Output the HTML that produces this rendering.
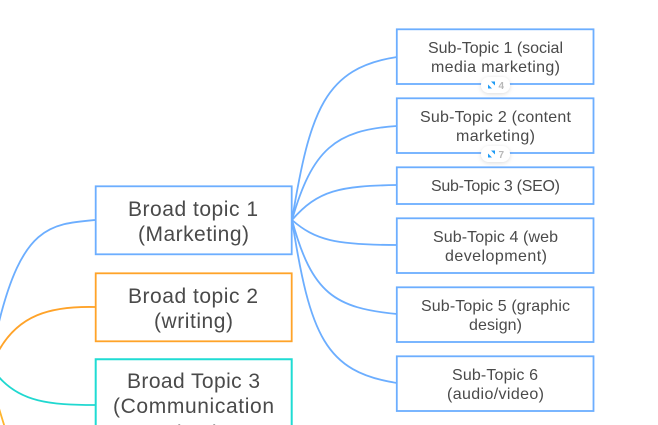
<!DOCTYPE html>
<html lang="en">
<head>
<meta charset="utf-8">
<title>Mind map</title>
<style>
html,body{margin:0;padding:0;background:#fff;width:658px;height:425px;overflow:hidden}
svg{display:block}
text{font-family:"Liberation Sans",sans-serif;fill:#4a4a4a}
.b{font-size:21px}
.s{font-size:16px}
.n{font-size:10px;fill:#b8b8b8;font-weight:bold}
.box{fill:#fff;stroke-width:1.8}
path.c{fill:none;stroke-width:1.8}
</style>
</head>
<body>
<svg width="658" height="425" viewBox="0 0 658 425" xmlns="http://www.w3.org/2000/svg">
<defs>
<filter id="sh" x="-40%" y="-40%" width="180%" height="200%">
<feDropShadow dx="0" dy="1" stdDeviation="2" flood-color="#000" flood-opacity="0.14"/>
</filter>
</defs>

<!-- connectors -->
<g stroke="#6caeff">
<path class="c" d="M292 220C310 110 325 68 397 57"/>
<path class="c" d="M292 220C312 150 335 130 397 126"/>
<path class="c" d="M292 220C318 190 340 186 397 185"/>
<path class="c" d="M292 220C315 240 335 245 397 245"/>
<path class="c" d="M292 220C312 294 335 308 397 314"/>
<path class="c" d="M292 220C310 335 325 372 397 383"/>
<path class="c" d="M95 220C50 224 22 226 -2 326"/>
</g>
<path class="c" stroke="#ffa329" d="M95 307C50 306 18 315 -2 352"/>
<path class="c" stroke="#ffb52e" d="M-2 405C0 412 2 418 5 428"/>
<path class="c" stroke="#20d8d0" d="M95 405C50 405 20 402 -2 376"/>

<!-- broad topics -->
<rect class="box" x="95.700" y="186.300" width="196" height="68" stroke="#6caeff"/>
<rect class="box" x="95.700" y="273.300" width="196" height="68" stroke="#ffa329"/>
<path d="M95.700 425V359.300H291.700V425" fill="#fff" stroke="#1fdcd3" stroke-width="2"/>

<text class="b" x="128" y="216" textLength="130">Broad topic 1</text>
<text class="b" x="138" y="241" textLength="111">(Marketing)</text>
<text class="b" x="128" y="303" textLength="130">Broad topic 2</text>
<text class="b" x="154" y="328" textLength="79">(writing)</text>
<text class="b" x="127" y="388" textLength="133">Broad Topic 3</text>
<text class="b" x="113" y="413" textLength="161">(Communication</text>
<text class="b" x="143" y="440" textLength="100">authoring</text>

<!-- sub topics -->
<g stroke="#6caeff">
<rect class="box" x="396.800" y="29.300" width="196.700" height="54.700"/>
<rect class="box" x="396.800" y="98.300" width="196.700" height="54.700"/>
<rect class="box" x="396.800" y="167.300" width="196.700" height="36.700"/>
<rect class="box" x="396.800" y="218.300" width="196.700" height="54.700"/>
<rect class="box" x="396.800" y="287.300" width="196.700" height="54.700"/>
<rect class="box" x="396.800" y="356.300" width="196.700" height="54.700"/>
</g>

<text class="s" x="428" y="53" textLength="135">Sub-Topic 1 (social</text>
<text class="s" x="431" y="72" textLength="129">media marketing)</text>
<text class="s" x="420" y="122" textLength="151">Sub-Topic 2 (content</text>
<text class="s" x="456" y="141" textLength="79">marketing)</text>
<text class="s" x="431" y="191" textLength="129">Sub-Topic 3 (SEO)</text>
<text class="s" x="433" y="242" textLength="125">Sub-Topic 4 (web</text>
<text class="s" x="445" y="261" textLength="102">development)</text>
<text class="s" x="421" y="311" textLength="149">Sub-Topic 5 (graphic</text>
<text class="s" x="469" y="330" textLength="53">design)</text>
<text class="s" x="452" y="380" textLength="86">Sub-Topic 6</text>
<text class="s" x="447" y="399" textLength="97">(audio/video)</text>

<!-- collapse badges -->
<g>
<rect x="481" y="77" width="29" height="16" rx="8" fill="#fff" filter="url(#sh)"/>
<path d="M491 81.500h4v4zM488 84.500v4h4z" fill="#1e9bf5"/>
<text class="n" x="498.500" y="89">4</text>
</g>
<g>
<rect x="481" y="146" width="29" height="16" rx="8" fill="#fff" filter="url(#sh)"/>
<path d="M491 150.500h4v4zM488 153.500v4h4z" fill="#1e9bf5"/>
<text class="n" x="498.500" y="158">7</text>
</g>
</svg>
</body>
</html>
